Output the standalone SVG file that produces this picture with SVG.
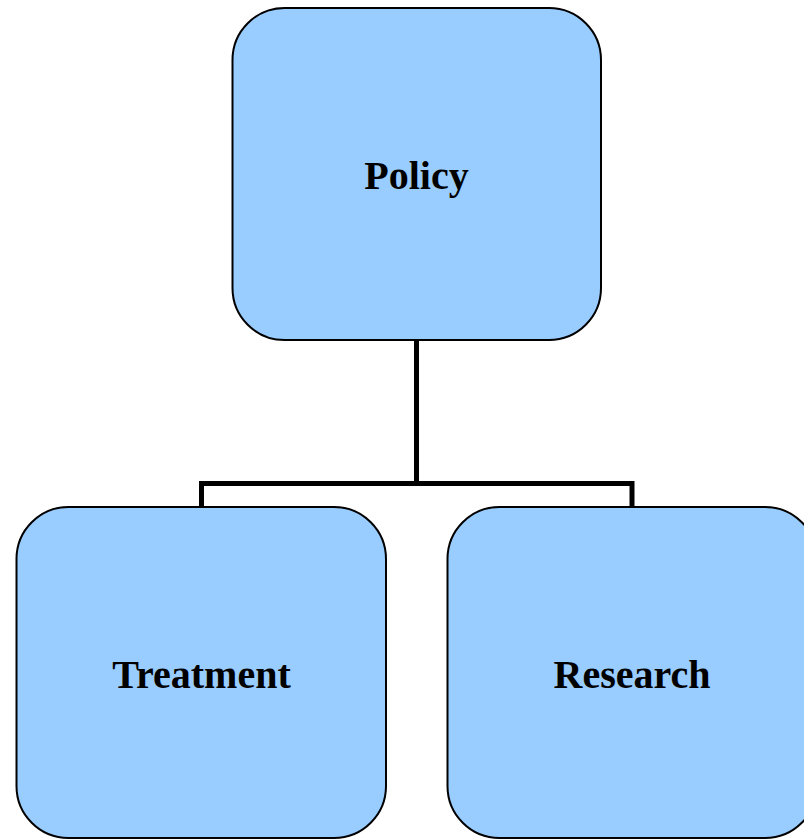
<svg xmlns="http://www.w3.org/2000/svg" width="804" height="840" viewBox="0 0 804 840">
<style>
.box{fill:#99ccff;stroke:#000;stroke-width:2}
.lbl{font-family:"Liberation Serif",serif;font-weight:bold;font-size:40px;text-anchor:middle;fill:#000}
.conn{fill:none;stroke:#000;stroke-width:5;stroke-linecap:square}
</style>
<rect width="804" height="840" fill="#fff"/>
<g id="connectors">
<path class="conn" d="M416.5,341 V483.5 M201.5,505 V483.5 H632 V505"/>
</g>
<g id="policy">
<rect class="box" x="232.5" y="8" width="368.5" height="332" rx="52" ry="52"/>
<text class="lbl" x="416.5" y="189">Policy</text>
</g>
<g id="treatment">
<rect class="box" x="16.5" y="507" width="369.5" height="331" rx="52" ry="52"/>
<text class="lbl" x="201.5" y="688">Treatment</text>
</g>
<g id="research">
<rect class="box" x="447.5" y="507" width="369.5" height="331" rx="52" ry="52"/>
<text class="lbl" x="632" y="688">Research</text>
</g>
</svg>
